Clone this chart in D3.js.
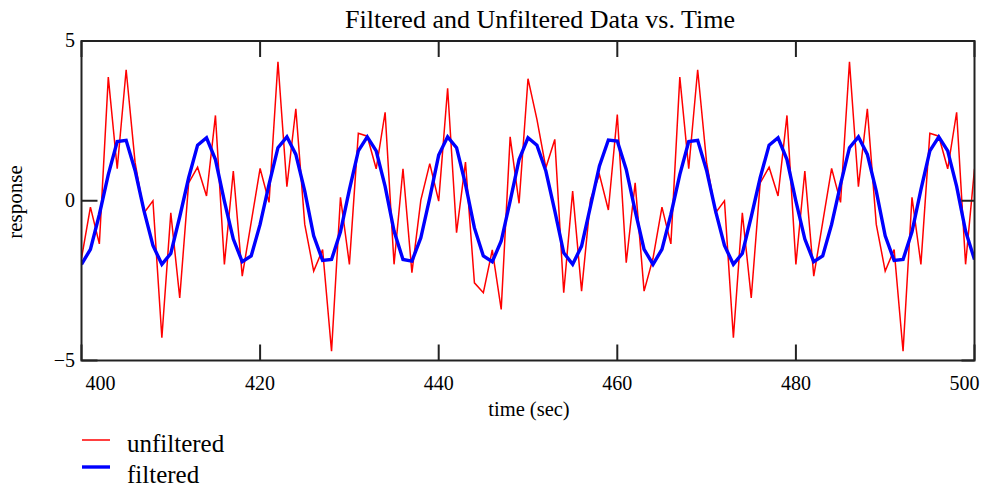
<!DOCTYPE html>
<html lang="en">
<head>
<meta charset="UTF-8">
<title>Filtered and Unfiltered Data vs. Time</title>
<script src="https://cdnjs.cloudflare.com/ajax/libs/d3/7.8.5/d3.min.js"></script>
<style>
    body {
        margin: 0;
        background: #fff;
    }
    svg text {
        fill: #000;
        font-family: "Liberation Serif", "Times New Roman", Times, "DejaVu Serif", serif;
    }
</style>
</head>
<body>
<div id="chart"></div>

<script>
// sample times (sec)
const time = [
    400, 401, 402, 403, 404, 405, 406, 407, 408, 409,
    410, 411, 412, 413, 414, 415, 416, 417, 418, 419,
    420, 421, 422, 423, 424, 425, 426, 427, 428, 429,
    430, 431, 432, 433, 434, 435, 436, 437, 438, 439,
    440, 441, 442, 443, 444, 445, 446, 447, 448, 449,
    450, 451, 452, 453, 454, 455, 456, 457, 458, 459,
    460, 461, 462, 463, 464, 465, 466, 467, 468, 469,
    470, 471, 472, 473, 474, 475, 476, 477, 478, 479,
    480, 481, 482, 483, 484, 485, 486, 487, 488, 489,
    490, 491, 492, 493, 494, 495, 496, 497, 498, 499,
    500
];

// raw response
const unfiltered = [
    -1.80, -0.20, -1.35, 3.87, 1.00, 4.10, 1.20, -0.38, 0.00, -4.29,
    -0.38, -3.04, 0.56, 1.05, 0.15, 2.67, -1.99, 0.93, -2.36, -0.68,
    1.01, -0.05, 4.35, 0.44, 2.88, -0.74, -2.20, -1.53, -4.71, 0.11,
    -1.99, 2.11, 2.02, 1.00, 2.77, -1.99, 1.00, -2.25, 0.02, 1.16,
    -0.01, 3.52, -1.00, 1.21, -2.57, -2.88, -1.54, -3.40, 2.00, -0.08,
    3.82, 2.55, 1.03, 1.92, -2.88, 0.30, -2.83, 0.04, 0.82, -0.29,
    2.70, -1.94, 0.56, -2.83, -1.80, -0.20, -1.35, 3.87, 1.00, 4.10,
    1.20, -0.38, 0.00, -4.29, -0.38, -3.04, 0.56, 1.05, 0.15, 2.67,
    -1.99, 0.93, -2.36, -0.68, 1.01, -0.05, 4.35, 0.44, 2.88, -0.74,
    -2.20, -1.53, -4.71, 0.11, -1.99, 2.11, 2.02, 1.00, 2.77, -1.99,
    1.00
];

// filtered response
const filtered = [
    -1.99, -1.52, -0.43, 0.82, 1.85, 1.89, 0.95, -0.32, -1.40, -1.99,
    -1.65, -0.50, 0.72, 1.74, 1.97, 1.29, -0.01, -1.20, -1.91, -1.73,
    -0.74, 0.51, 1.66, 2.00, 1.45, 0.30, -1.10, -1.87, -1.84, -0.97,
    0.35, 1.56, 2.00, 1.56, 0.45, -0.95, -1.84, -1.89, -1.16, 0.09,
    1.43, 2.00, 1.66, 0.51, -0.85, -1.73, -1.91, -1.26, -0.01, 1.29,
    1.97, 1.74, 0.93, -0.32, -1.63, -1.99, -1.42, -0.17, 1.09, 1.90,
    1.87, 0.98, -0.32, -1.52, -1.99, -1.52, -0.43, 0.82, 1.85, 1.89,
    0.95, -0.32, -1.40, -1.99, -1.65, -0.50, 0.72, 1.74, 1.97, 1.29,
    -0.01, -1.20, -1.91, -1.73, -0.74, 0.51, 1.66, 2.00, 1.45, 0.30,
    -1.10, -1.87, -1.84, -0.97, 0.35, 1.56, 2.00, 1.56, 0.45, -0.95,
    -1.84
];

const xTicks = [400, 420, 440, 460, 480, 500];
const yTicks = [-5, 0, 5];

const width = 985, height = 487;
const plot = { left: 81.5, right: 974.5, top: 41, bottom: 360.5 };

const svg = d3.select("#chart")
    .append("svg")
    .attr("width", width)
    .attr("height", height)
    .attr("font-family", "'Liberation Serif', 'Times New Roman', Times, serif");

const x = d3.scaleLinear().domain([400, 500]).range([plot.left, plot.right]);
const y = d3.scaleLinear().domain([-5, 5]).range([plot.bottom, plot.top]);

const frameColor = "#222";

// series
const series = [
    { name: "unfiltered", values: unfiltered, color: "#ff0000", width: 1.5, labelY: 452 },
    { name: "filtered", values: filtered, color: "#0000ff", width: 3.4, labelY: 483 }
];

const line = d3.line()
    .x(d => x(d[0]))
    .y(d => y(d[1]));

svg.append("clipPath").attr("id", "clip")
    .append("rect")
    .attr("x", plot.left).attr("y", plot.top)
    .attr("width", plot.right - plot.left)
    .attr("height", plot.bottom - plot.top);

const lines = svg.append("g").attr("clip-path", "url(#clip)");
series.forEach(s => {
    lines.append("path")
        .datum(time.map((t, i) => [t, s.values[i]]))
        .attr("fill", "none")
        .attr("stroke", s.color)
        .attr("stroke-width", s.width)
        .attr("d", line);
});

// frame
svg.append("rect")
    .attr("x", plot.left).attr("y", plot.top)
    .attr("width", plot.right - plot.left)
    .attr("height", plot.bottom - plot.top)
    .attr("fill", "none")
    .attr("stroke", frameColor)
    .attr("stroke-width", 2);

// inward ticks
const tickLen = 16;
const ticks = svg.append("g").attr("stroke", frameColor).attr("stroke-width", 2);
xTicks.forEach(t => {
    ticks.append("line").attr("x1", x(t)).attr("x2", x(t))
        .attr("y1", plot.bottom).attr("y2", plot.bottom - tickLen);
    ticks.append("line").attr("x1", x(t)).attr("x2", x(t))
        .attr("y1", plot.top).attr("y2", plot.top + tickLen);
});
yTicks.forEach(v => {
    ticks.append("line").attr("x1", plot.left).attr("x2", plot.left + tickLen)
        .attr("y1", y(v)).attr("y2", y(v));
    ticks.append("line").attr("x1", plot.right).attr("x2", plot.right - 13)
        .attr("y1", y(v)).attr("y2", y(v));
});

// tick labels
svg.append("g")
    .selectAll("text")
    .data(xTicks)
    .enter().append("text")
    .attr("x", (d, i) => i === 0 ? x(d) + 4 : i === xTicks.length - 1 ? x(d) + 5 : x(d))
    .attr("y", 390)
    .attr("text-anchor", (d, i) => i === 0 ? "start" : i === xTicks.length - 1 ? "end" : "middle")
    .style("font-size", "20px")
    .text(d => d);

svg.append("g")
    .selectAll("text")
    .data(yTicks)
    .enter().append("text")
    .attr("x", 75)
    .attr("y", d => y(d) + 6)
    .attr("text-anchor", "end")
    .style("font-size", "20px")
    .text(d => d < 0 ? "\u2212" + Math.abs(d) : d);

// title and axis labels
svg.append("text")
    .attr("x", 540)
    .attr("y", 28)
    .attr("text-anchor", "middle")
    .style("font-size", "26px")
    .text("Filtered and Unfiltered Data vs. Time");

svg.append("text")
    .attr("x", 529)
    .attr("y", 416)
    .attr("text-anchor", "middle")
    .style("font-size", "20.5px")
    .text("time (sec)");

svg.append("text")
    .attr("transform", "translate(22,202) rotate(-90)")
    .attr("text-anchor", "middle")
    .style("font-size", "21px")
    .text("response");

// legend
const legend = svg.append("g");
series.forEach((s, i) => {
    const ly = 440 + i * 27;
    legend.append("line")
        .attr("x1", 82).attr("x2", 110)
        .attr("y1", ly).attr("y2", ly)
        .attr("stroke", s.color)
        .attr("stroke-width", s.width);
    legend.append("text")
        .attr("x", 127)
        .attr("y", s.labelY)
        .style("font-size", "25px")
        .text(s.name);
});
</script>
</body>
</html>
